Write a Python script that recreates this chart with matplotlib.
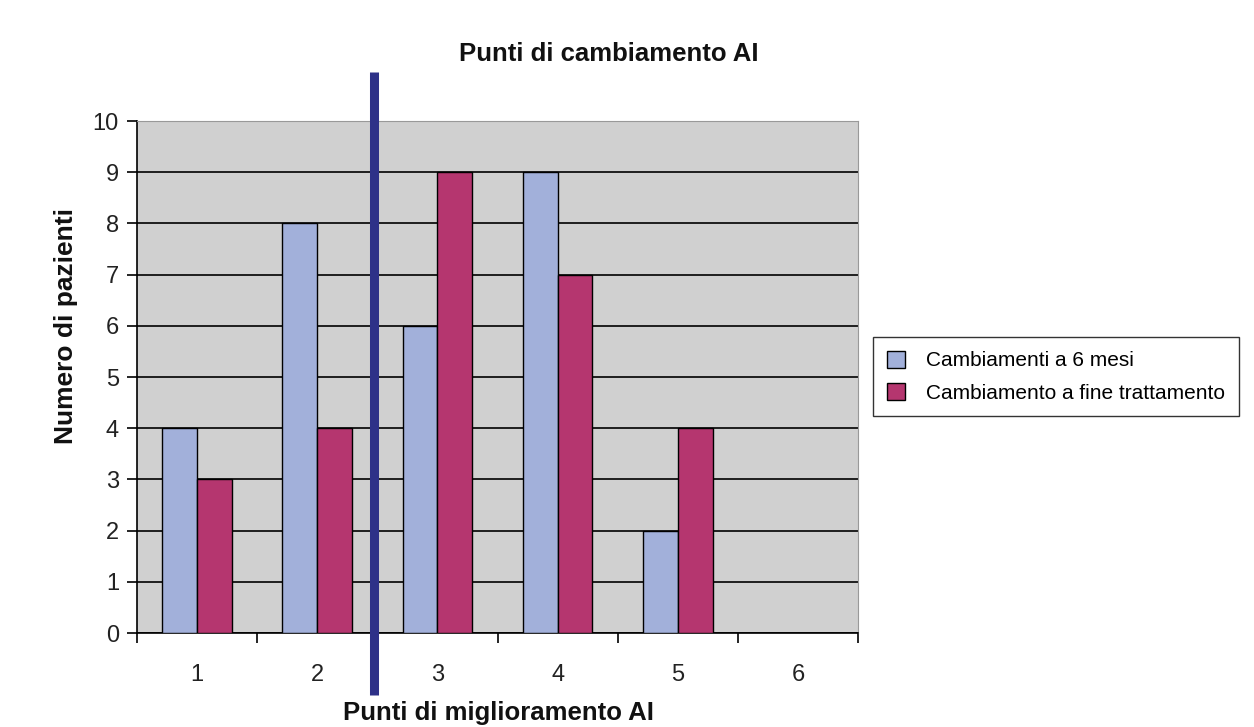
import numpy as np
import matplotlib.pyplot as plt

plt.rcParams['font.family'] = ['Liberation Sans', 'DejaVu Sans']

# data
categories = [1, 2, 3, 4, 5, 6]
sei_mesi = [4, 8, 6, 9, 2, 0]
fine_trattamento = [3, 4, 9, 7, 4, 0]
y_ticks = list(range(0, 11))
divider = 2.47

W, H = 1254, 727
fig = plt.figure(figsize=(W / 100, H / 100), dpi=100)
ax = fig.add_axes([137 / W, 1 - 633 / H, 721 / W, 512 / H])

x = np.array(categories)
w = 0.29
ax.set_facecolor('#d0d0d0')
ax.bar(x - w / 2, sei_mesi, w, color='#a2b0da', edgecolor='black', linewidth=1,
       label='Cambiamenti a 6 mesi', zorder=3)
ax.bar(x + w / 2, fine_trattamento, w, color='#b5366f', edgecolor='black', linewidth=1,
       label='Cambiamento a fine trattamento', zorder=3)

ax.set_xlim(0.5, 6.5)
ax.set_ylim(0, 10)
ax.set_yticks(y_ticks)
ax.yaxis.grid(True, color='black', linewidth=1.2, zorder=1)
ax.set_axisbelow(True)

# x ticks: labels at centers, tick marks between categories
ax.set_xticks(x)
ax.set_xticklabels([str(c) for c in categories])
ax.set_xticks(np.arange(0.5, 7, 1), minor=True)
ax.tick_params(axis='x', which='major', length=0, pad=22, labelsize=17, labelcolor='#222222')
ax.tick_params(axis='x', which='minor', length=7, width=1.2, direction='out')
ax.tick_params(axis='y', length=7, width=1.2, labelsize=17, pad=6, labelcolor='#222222')

for side in ['top', 'right']:
    ax.spines[side].set_color('#999999')
for side in ['left', 'bottom']:
    ax.spines[side].set_color('black')
    ax.spines[side].set_linewidth(1.2)

# vertical divider line extending beyond the plot
ax.plot([divider, divider], [-0.121, 1.096], color='#2e3188', linewidth=6.5,
        transform=ax.get_xaxis_transform(), clip_on=False, zorder=5,
        solid_capstyle='butt')

fig.text(609 / W, 1 - 61 / H, 'Punti di cambiamento AI', fontsize=18.5,
         fontweight='bold', ha='center', va='baseline', color='#111111')
fig.text(66 / W, 1 - 326 / H, 'Numero di pazienti', fontsize=19, fontweight='bold',
         rotation=90, ha='center', va='center', color='#111111')
fig.text(498 / W, 1 - 720 / H, 'Punti di miglioramento AI', fontsize=18.5,
         fontweight='bold', ha='center', va='baseline', color='#111111')

leg = fig.legend(loc='upper left', bbox_to_anchor=(873 / W, 1 - 337 / H),
                 fontsize=15, frameon=True, fancybox=False, edgecolor='black',
                 handlelength=0.9, handleheight=0.9, borderpad=0.65, labelspacing=0.6,
                 handletextpad=1.0, borderaxespad=0)
leg.get_frame().set_linewidth(1)

fig.savefig('out.png', dpi=100)
